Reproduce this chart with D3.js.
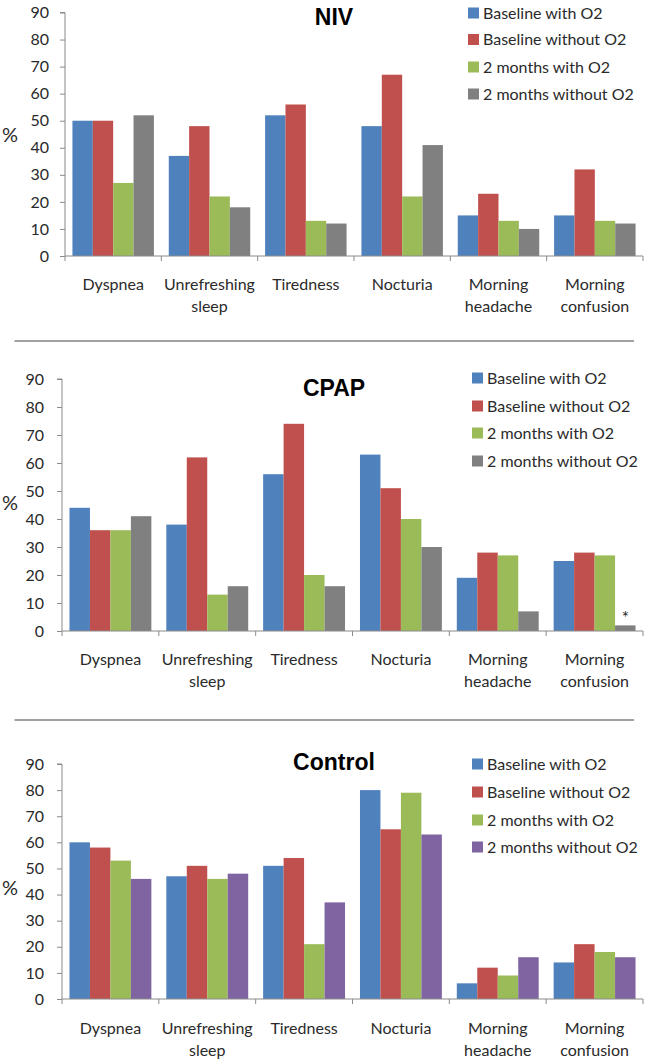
<!DOCTYPE html>
<html><head><meta charset="utf-8">
<script src="https://cdn.jsdelivr.net/npm/d3@7"></script>
<style>
html,body{margin:0;padding:0;background:#fff;}
svg{display:block;}
</style></head>
<body>
<svg id="chart" width="648" height="1060"></svg>
<script>
const categories = ["Dyspnea", "Unrefreshing\nsleep", "Tiredness", "Nocturia", "Morning\nheadache", "Morning\nconfusion"];
const seriesNames = ["Baseline with O2", "Baseline without O2", "2 months with O2", "2 months without O2"];
const yTicks = [0, 10, 20, 30, 40, 50, 60, 70, 80, 90];

// NIV
const nivBaselineWith    = [50, 37, 52, 48, 15, 15];
const nivBaselineWithout = [50, 48, 56, 67, 23, 32];
const niv2mWith          = [27, 22, 13, 22, 13, 13];
const niv2mWithout       = [52, 18, 12, 41, 10, 12];
// CPAP
const cpapBaselineWith    = [44, 38, 56, 63, 19, 25];
const cpapBaselineWithout = [36, 62, 74, 51, 28, 28];
const cpap2mWith          = [36, 13, 20, 40, 27, 27];
const cpap2mWithout       = [41, 16, 16, 30, 7, 2];
// Control
const ctlBaselineWith    = [60, 47, 51, 80, 6, 14];
const ctlBaselineWithout = [58, 51, 54, 65, 12, 21];
const ctl2mWith          = [53, 46, 21, 79, 9, 18];
const ctl2mWithout       = [46, 48, 37, 63, 16, 16];

const panels = [
  {title: "NIV", series: [nivBaselineWith, nivBaselineWithout, niv2mWith, niv2mWithout],
   colors: ["#4F81BD", "#C0504D", "#9BBB59", "#808080"],
   yTop: 12.5, yBot: 256, x0: 65, x1: 643, titleY: 17, legX: 468, legY: [13, 39.5, 67, 94],
   labY: 284, pctY: 135, tickGap: 16, star: false},
  {title: "CPAP", series: [cpapBaselineWith, cpapBaselineWithout, cpap2mWith, cpap2mWithout],
   colors: ["#4F81BD", "#C0504D", "#9BBB59", "#808080"],
   yTop: 379, yBot: 631, x0: 62, x1: 643, titleY: 388, legX: 472, legY: [378, 406, 433, 461],
   labY: 659, pctY: 503, tickGap: 18, star: true},
  {title: "Control", series: [ctlBaselineWith, ctlBaselineWithout, ctl2mWith, ctl2mWithout],
   colors: ["#4F81BD", "#C0504D", "#9BBB59", "#8064A2"],
   yTop: 764, yBot: 999, x0: 62, x1: 643, titleY: 762, legX: 472, legY: [764, 792, 820, 847],
   labY: 1028, pctY: 888, tickGap: 18, star: false}
];

const svg = d3.select("#chart");
const font = "Lato, 'Open Sans', sans-serif";
const axisColor = "#8a8a8a";
const textColor = "#2a2a2a";

// separators
[341, 720].forEach(y => {
  svg.append("line").attr("x1", 14.5).attr("x2", 634).attr("y1", y).attr("y2", y)
    .attr("stroke", "#444").attr("stroke-width", 1.2);
});

panels.forEach(p => {
  const g = svg.append("g");
  const y = d3.scaleLinear().domain([0, 90]).range([p.yBot, p.yTop]);
  const x = d3.scaleBand().domain(categories.map((c, i) => i)).range([p.x0, p.x1]).paddingInner(0).paddingOuter(0);
  const xs = d3.scaleBand().domain(d3.range(4)).range([0, x.bandwidth()]).paddingOuter(0.365).paddingInner(0);

  // bars
  p.series.forEach((vals, si) => {
    g.selectAll(null).data(vals).enter().append("rect")
      .attr("x", (d, i) => x(i) + xs(si))
      .attr("width", xs.bandwidth())
      .attr("y", d => y(d))
      .attr("height", d => y(0) - y(d))
      .attr("fill", p.colors[si]);
  });

  // y axis
  const ya = d3.axisLeft(y).tickValues(yTicks).tickSize(5).tickPadding(p.tickGap - 5);
  const yg = g.append("g").attr("transform", `translate(${p.x0},0)`).call(ya);
  yg.select(".domain").attr("stroke", axisColor).attr("d", `M-5,${p.yTop}H0V${p.yBot}`);
  yg.selectAll(".tick line").attr("stroke", axisColor);
  yg.selectAll(".tick text").attr("font-family", font).attr("font-size", 16).attr("fill", textColor);

  // x axis
  const xg = g.append("g").attr("transform", `translate(0,${p.yBot})`);
  xg.append("line").attr("x1", p.x0).attr("x2", p.x1).attr("stroke", axisColor);
  const bounds = categories.map((c, i) => x(i)).concat([p.x1]);
  xg.selectAll(null).data(bounds).enter().append("line")
    .attr("x1", d => d).attr("x2", d => d).attr("y1", 0).attr("y2", 5).attr("stroke", axisColor);

  // x labels
  categories.forEach((c, i) => {
    const lines = c.split("\n");
    const t = g.append("text").attr("text-anchor", "middle")
      .attr("font-family", font).attr("font-size", 16).attr("fill", textColor);
    lines.forEach((l, li) => {
      t.append("tspan").attr("x", x(i) + x.bandwidth() / 2).attr("y", p.labY + 5.5 + li * 22).text(l);
    });
  });

  // % label
  g.append("text").attr("x", 10).attr("y", p.pctY + 6.5).attr("text-anchor", "middle")
    .attr("font-family", font).attr("font-size", 20).attr("fill", textColor).text("%");

  // title
  g.append("text").attr("x", 334).attr("y", p.titleY + 8).attr("text-anchor", "middle")
    .attr("font-family", "'Liberation Sans', Arial, sans-serif").attr("font-weight", "bold")
    .attr("font-size", 23).attr("fill", "#000").text(p.title);

  // legend
  seriesNames.forEach((n, si) => {
    g.append("rect").attr("x", p.legX).attr("y", p.legY[si] - 5.5).attr("width", 11).attr("height", 11)
      .attr("fill", p.colors[si]);
    g.append("text").attr("x", p.legX + 15).attr("y", p.legY[si] + 5.8)
      .attr("font-family", font).attr("font-size", 16).attr("fill", textColor).text(n);
  });

  if (p.star) {
    const last = p.series[3];
    const i = last.length - 1;
    g.append("text").attr("x", x(i) + xs(3) + xs.bandwidth() / 2).attr("y", y(last[i]) - 1)
      .attr("text-anchor", "middle").attr("font-family", font).attr("font-size", 17).attr("fill", textColor).text("*");
  }
});
</script>
</body></html>
